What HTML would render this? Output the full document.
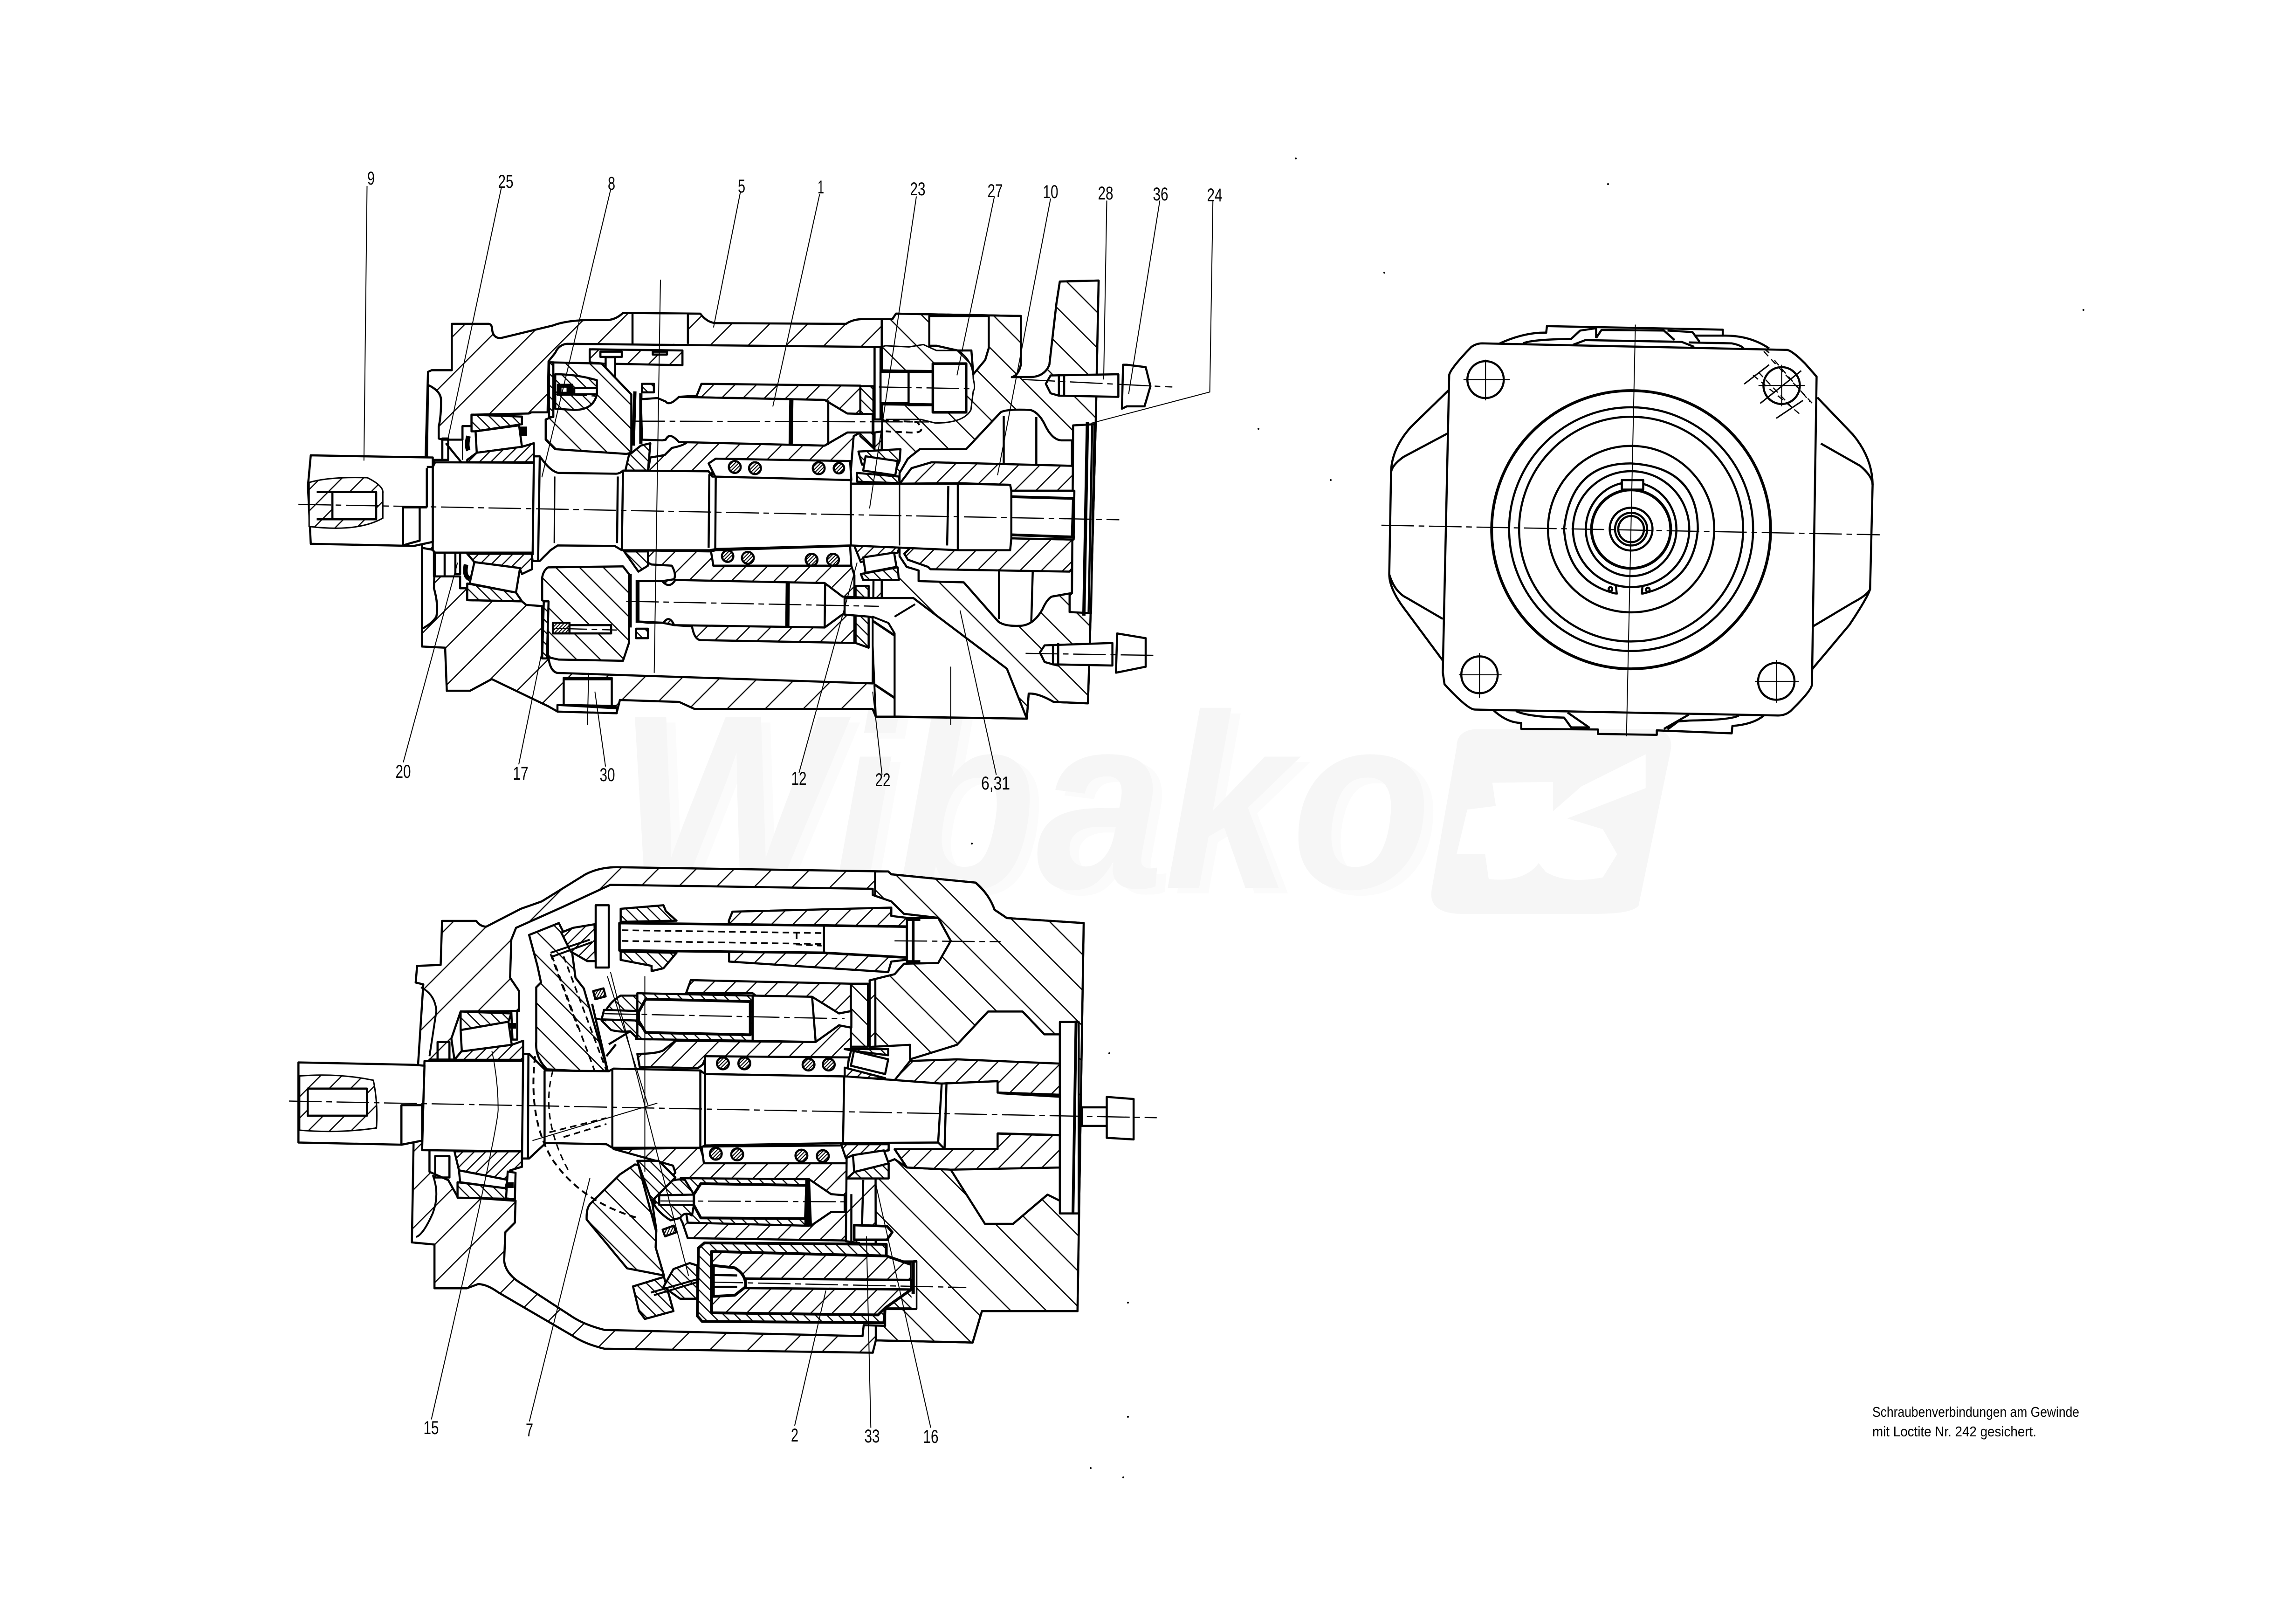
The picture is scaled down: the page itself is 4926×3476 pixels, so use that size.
<!DOCTYPE html>
<html><head><meta charset="utf-8"><title>Pump sectional drawing</title>
<style>
html,body{margin:0;padding:0;background:#fff}
svg{display:block}
.o{fill:none;stroke:#000;stroke-width:4.5;vector-effect:non-scaling-stroke;stroke-linejoin:round}
.t{fill:none;stroke:#000;stroke-width:2;vector-effect:non-scaling-stroke}
.c{fill:none;stroke:#000;stroke-width:2.5;stroke-dasharray:70 10 12 10;vector-effect:non-scaling-stroke}
.d{fill:none;stroke:#000;stroke-width:2.5;stroke-dasharray:14 9;vector-effect:non-scaling-stroke}
.k{fill:none;stroke:#000;stroke-width:8;vector-effect:non-scaling-stroke}
.w{fill:#fff;stroke:#000;stroke-width:4.5;vector-effect:non-scaling-stroke;stroke-linejoin:round}
.n{fill:#fff;stroke:none}
.ha,.hb,.ma,.mb,.fa,.fb,.xx{stroke:#000;stroke-width:4.5;vector-effect:non-scaling-stroke;stroke-linejoin:round}
.ha{fill:url(#ha)}.hb{fill:url(#hb)}.ma{fill:url(#ma)}.mb{fill:url(#mb)}.fa{fill:url(#fa)}.fb{fill:url(#fb)}.xx{fill:url(#xx)}
.l{font-family:"Liberation Sans",sans-serif;font-size:40px;fill:#000;text-anchor:middle}
.s{font-family:"Liberation Sans",sans-serif;font-size:31px;fill:#000}
</style></head><body>
<svg xmlns="http://www.w3.org/2000/svg" width="4926" height="3476" viewBox="0 0 4926 3476">
<defs>
<pattern id="ha" patternUnits="userSpaceOnUse" width="160" height="160"><rect width="160" height="160" fill="#fff"/><path d="M-20,20 L20,-20 M0,160 L160,0 M140,180 L180,140" stroke="#000" stroke-width="5" fill="none"/></pattern>
<pattern id="hb" patternUnits="userSpaceOnUse" width="150" height="150"><rect width="150" height="150" fill="#fff"/><path d="M-20,130 L20,170 M0,0 L150,150 M130,-20 L170,20" stroke="#000" stroke-width="5" fill="none"/></pattern>
<pattern id="ma" patternUnits="userSpaceOnUse" width="90" height="90"><rect width="90" height="90" fill="#fff"/><path d="M-20,20 L20,-20 M0,90 L90,0 M70,110 L110,70" stroke="#000" stroke-width="5" fill="none"/></pattern>
<pattern id="mb" patternUnits="userSpaceOnUse" width="100" height="100"><rect width="100" height="100" fill="#fff"/><path d="M-20,80 L20,120 M0,0 L100,100 M80,-20 L120,20" stroke="#000" stroke-width="5" fill="none"/></pattern>
<pattern id="fa" patternUnits="userSpaceOnUse" width="48" height="48"><rect width="48" height="48" fill="#fff"/><path d="M-10,10 L10,-10 M0,48 L48,0 M38,58 L58,38" stroke="#000" stroke-width="5" fill="none"/></pattern>
<pattern id="fb" patternUnits="userSpaceOnUse" width="48" height="48"><rect width="48" height="48" fill="#fff"/><path d="M-10,38 L10,58 M0,0 L48,48 M38,-10 L58,10" stroke="#000" stroke-width="5" fill="none"/></pattern>
<pattern id="xx" patternUnits="userSpaceOnUse" width="15" height="15"><rect width="15" height="15" fill="#fff"/><path d="M-4,4 L4,-4 M0,15 L15,0 M11,19 L19,11" stroke="#000" stroke-width="4" fill="none"/></pattern>
</defs>
<rect width="4926" height="3476" fill="#fff"/>

<!-- watermark -->
<text x="1346" y="1917" font-family="Liberation Sans, sans-serif" font-weight="bold" font-style="italic" font-size="533" textLength="1745" lengthAdjust="spacingAndGlyphs" fill="#fbfbfb">Wibako</text>
<text x="1326" y="1905" font-family="Liberation Sans, sans-serif" font-weight="bold" font-style="italic" font-size="533" textLength="1745" lengthAdjust="spacingAndGlyphs" fill="#f6f6f6">Wibako</text>
<g transform="matrix(1.5307,0,0,0.3827,1250,1450)">
<path fill="#f6f6f6" d="M1250,300 L1500,300 Q1530,310 1525,420 L1480,1290 Q1470,1335 1420,1335 L1230,1335 Q1185,1330 1190,1200 L1225,400 Q1225,310 1250,300 Z"/>
<path fill="#fff" d="M1240,750 L1280,730 L1275,600 L1360,595 L1360,760 L1400,620 L1490,440 L1490,630 L1380,800 L1430,860 L1450,1000 L1430,1130 Q1380,1170 1350,1100 L1340,1050 Q1320,1160 1270,1140 L1265,1000 L1225,1000 Z"/>
</g>

<!-- VIEW 1 (uniform trace) -->
<g transform="matrix(0.5102,0,0,0.5102,880,650)">
<path class="ha" d="M175,88 L330,88 Q345,90 345,115 Q350,148 380,148 L600,95 Q650,75 740,72 L830,72 Q865,70 895,42 L1220,45 Q1250,85 1290,85 L1833,88 Q1858,70 1898,68 L2028,68 L2043,45 L2568,55 L2568,260 Q2558,305 2530,312 L2608,312 Q2668,310 2688,260 L2718,0 L2732,-90 L2895,-94 L2883,500 L2858,1430 L2850,1684 L2706,1678 Q2640,1640 2601,1643 L2593,1748 L1958,1740 L1945,1708 L1197,1708 L1131,1678 L882,1670 L868,1725 L619,1718 L580,1696 L343,1582 L252,1631 L154,1631 L147,1450 L50,1445 L50,1020 L65,650 L75,290 L90,283 L175,283 Z"/>
<path class="hb" d="M1983,68 L2028,68 L2043,45 L2568,55 L2568,260 Q2558,305 2530,312 L2608,312 Q2668,310 2688,260 L2718,0 L2732,-90 L2895,-94 L2883,500 L2858,1430 L2850,1684 L2706,1678 Q2640,1640 2601,1643 L2593,1748 L2037,1740 L1983,1500 Z"/>
<rect class="n" x="936" y="48" width="232" height="124"/>
<path class="o" d="M935,46 L935,172 M1168,46 L1168,172"/>
<!-- left recesses -->
<path class="w" d="M75,345 Q130,370 130,410 Q130,480 120,520 L120,570 L135,575 L135,660 L100,660 L100,690 L70,690 Z"/>
<path class="w" d="M105,1040 L100,1200 Q120,1270 110,1320 Q90,1350 50,1370 L50,1030 Z"/>
<!-- main cavity -->
<path class="w" d="M135,575 L220,575 L220,518 L258,518 L258,470 L500,465 L510,460 L578,460 L582,245 L610,210 Q625,175 660,172 L1953,185 L1953,490 L1985,490 L1985,540 L1953,545 L1945,1600 L619,1556 Q590,1550 582,1495 L555,1495 L555,1275 L488,1270 L470,1255 L240,1250 L240,1200 L210,1200 L210,1150 L100,1150 L100,1050 L100,660 L135,660 Z"/>
<path class="w" d="M1953,185 L1978,185 L1978,490 L1953,490 Z"/>
<!-- upper right pocket and plug break -->
<path class="w" d="M2183,55 L2433,55 L2433,190 L2418,240 L2368,300 L2360,200 L2303,200 L2213,180 L2183,180 Z"/>
<path class="t" d="M1978,185 L2000,180 L2098,185 L2158,175 L2213,200 L2303,200 Q2368,240 2368,320 Q2378,360 2368,370 L2358,450 Q2328,505 2208,505 L2148,490 L2000,490" style="stroke-width:3"/>
<rect class="w" x="1978" y="290" width="118" height="130"/>
<rect class="w" x="2096" y="290" width="102" height="140"/>
<path class="k" d="M1978,285 L2196,288 M1978,425 L2196,428" style="stroke-width:6"/>
<rect class="w" x="2198" y="255" width="140" height="205" style="stroke-width:5.5"/>
<path class="d" d="M1985,495 L2130,500 Q2180,550 2100,545 L2000,540" style="stroke-width:4"/>
<!-- top of swash cap -->
<path class="ma" d="M755,195 L1145,200 L1145,262 L810,255 L755,250 Z"/>
<rect class="w" x="800" y="205" width="90" height="22"/>
<rect class="w" x="1020" y="205" width="60" height="12"/>
<path class="w" d="M822,228 L862,228 L862,320 L822,320 Z"/>
<path class="k" d="M822,322 L862,322" style="stroke-width:5"/>
<!-- swash upper -->
<path class="mb" d="M590,250 L805,255 L930,385 L930,630 L910,635 L610,615 L570,575 L570,490 L595,480 Z"/>
<rect class="fb" x="584" y="250" width="18" height="230"/>
<path class="w" d="M610,300 Q700,300 785,325 L785,385 Q770,450 690,450 L610,445 Z" style="fill:url(#fb)"/>
<rect x="617" y="340" width="68" height="50" fill="#000"/>
<rect class="w" x="632" y="352" width="30" height="26"/>
<rect class="w" x="690" y="358" width="95" height="26"/>
<path class="k" d="M945,372 L938,600 M970,380 L970,592" style="stroke-width:7"/>
<!-- swash lower -->
<path class="mb" d="M580,1112 L895,1108 L920,1140 L920,1430 L895,1505 L625,1500 L580,1490 L578,1265 L555,1250 L555,1155 Q560,1125 580,1112 Z"/>
<path class="fb" d="M562,1255 L582,1255 L575,1495 L555,1495 Z"/>
<rect x="600" y="1345" width="70" height="45" class="xx"/>
<rect class="w" x="670" y="1355" width="175" height="35"/>
<path class="k" d="M925,1140 L925,1365 M955,1165 L955,1345" style="stroke-width:7"/>
<rect class="fb" x="950" y="1370" width="50" height="40"/>
<rect class="fb" x="975" y="340" width="50" height="36"/>
<!-- cylinder blocks -->
<path class="ma" d="M1205,390 L1225,340 L1893,348 L1893,545 L1865,560 L1860,620 L1850,745 L1000,708 L1010,650 L1070,640 L1100,610 Q1150,600 1165,585 L1743,600 L1838,545 L1838,465 L1743,408 L1130,395 Z"/>
<path class="fb" d="M1893,350 L1948,350 L1948,610 L1893,560 Z"/>
<path class="ma" d="M895,1040 L1270,1045 L1275,1105 L1855,1105 L1868,1145 L1868,1430 L1220,1418 Q1195,1415 1185,1360 L1110,1355 L1060,1345 L1000,1345 L960,1340 L960,1170 L1060,1170 L1110,1162 Q1120,1140 1100,1105 L1015,1100 Z"/>
<path class="fb" d="M1873,1190 L1928,1190 L1928,1450 L1873,1430 Z"/>
<!-- spring chambers -->
<path class="w" d="M1255,675 L1285,655 L1850,665 L1855,745 L1285,735 Z"/>
<path class="w" d="M1265,1045 L1285,1040 L1850,1022 L1855,1105 L1275,1105 Z"/>
<circle class="xx" cx="1365" cy="690" r="25"/><circle class="xx" cx="1450" cy="695" r="25"/><circle class="xx" cx="1718" cy="695" r="25"/><circle class="xx" cx="1803" cy="695" r="22"/>
<circle class="xx" cx="1335" cy="1065" r="24"/><circle class="xx" cx="1420" cy="1072" r="25"/><circle class="xx" cx="1688" cy="1080" r="25"/><circle class="xx" cx="1778" cy="1080" r="25"/>
<!-- pistons -->
<path class="w" d="M1130,395 L1743,408 L1838,465 L1945,468 L1945,545 L1838,545 L1743,600 L1130,585 Q1090,540 1075,575 L1060,578 L975,575 L970,405 L1040,400 L1075,415 Q1090,435 1130,395 Z"/>
<path class="k" d="M1603,405 L1600,596" style="stroke-width:9"/>
<path class="o" d="M1758,410 L1758,598"/>
<path class="w" d="M1115,1165 L1743,1178 L1818,1235 L1928,1240 L1928,1310 L1818,1310 L1743,1365 L1110,1355 Q1090,1310 1065,1345 L960,1340 L960,1170 L1060,1170 Q1090,1205 1115,1165 Z"/>
<path class="k" d="M1588,1175 L1586,1362" style="stroke-width:9"/>
<path class="o" d="M1745,1178 L1743,1365"/>
<path class="fb" d="M920,640 L970,600 L1010,590 L1000,705 L905,705 Z"/>
<path class="fb" d="M900,1045 L1000,1045 L1000,1105 L960,1130 Z"/>
<!-- bearings -->
<path class="fb" d="M258,470 L470,478 L470,510 L275,540 L258,540 Z"/>
<path class="w" d="M275,540 L458,515 L470,605 L280,630 Z"/>
<rect x="462" y="520" width="30" height="40" fill="#000"/>
<path class="fa" d="M240,660 L280,630 L470,605 L520,590 L520,670 L240,670 Z"/>
<path class="fa" d="M240,1055 L512,1055 L512,1120 L470,1140 L460,1115 L270,1090 Z"/>
<path class="w" d="M270,1090 L462,1115 L445,1218 L250,1180 Z"/>
<path class="fb" d="M240,1180 L445,1218 L470,1255 L240,1250 Z"/>
<path class="k" d="M245,560 Q235,600 245,620 M235,1100 Q225,1150 250,1160" style="stroke-width:10"/>
<path class="o" d="M135,570 L160,570 L160,660 L135,660 Z M150,590 L215,670 M105,1050 L145,1050 L145,1150 L105,1150 Z M190,1050 L210,1050 L210,1140 L190,1140 Z"/>
<path class="t" d="M220,518 L220,660"/>
<!-- right bearings -->
<path class="fb" d="M1885,625 L2062,615 L2058,665 L2040,705 L1900,680 Z"/>
<path class="w" d="M1915,645 L2050,665 L2040,725 L1905,705 Z"/>
<path class="fb" d="M1878,715 L2055,730 L2058,758 L1880,752 Z"/>
<path class="fa" d="M1868,1022 L2060,1020 L2050,1050 L1895,1090 Z"/>
<path class="w" d="M1905,1070 L2035,1050 L2045,1110 L1915,1135 Z"/>
<path class="fb" d="M1895,1140 L2050,1112 L2055,1165 L1905,1165 Z"/>
<!-- rear cavity -->
<path class="w" d="M2093,655 L2143,615 L2338,615 L2483,460 Q2508,445 2608,450 Q2643,460 2668,510 Q2698,575 2738,578 L2783,578 L2783,1220 L2698,1235 Q2678,1245 2658,1290 Q2618,1360 2558,1358 Q2498,1360 2473,1340 L2328,1175 L2138,1170 L2138,1125 L2088,1110 L2058,1065 L2058,715 Z"/>
<path class="fa" d="M2063,755 L2108,695 L2193,670 L2783,685 L2798,705 L2793,790 L2528,790 L2523,765 L2308,758 L2063,760 Z" style="fill:url(#ma)"/>
<path class="ma" d="M2078,1055 L2093,1080 L2178,1110 L2188,1120 L2773,1130 L2793,1105 L2790,995 L2528,990 L2518,1040 L2308,1040 L2258,1025 L2108,1025 Z"/>
<path class="o" d="M2496,475 L2496,680 M2633,480 L2633,680 M2476,1120 L2476,1330 M2618,1130 L2612,1340"/>
<!-- plate -->
<path class="w" d="M2788,515 L2878,510 L2863,1305 L2773,1300 L2773,1230 L2783,1220 Z"/>
<path class="k" d="M2848,500 L2833,1315" style="stroke-width:7"/>
<path class="o" d="M2868,515 L2853,1300"/>
<!-- shaft -->
<path class="w" d="M105,670 L520,672 L520,645 L545,645 Q590,710 625,715 L860,718 Q880,720 895,705 L1255,708 L1270,730 L1853,745 L1853,760 L2308,760 L2523,765 L2528,790 L2793,790 L2790,995 L2528,990 L2523,1040 L2308,1040 L1853,1020 L1285,1035 L1260,1040 L890,1040 L860,1022 L620,1020 L590,1040 L545,1085 L515,1085 L510,1050 L105,1050 L95,1040 L95,690 Z"/>
<path class="o" d="M520,672 L515,1060 M545,650 L538,1080 M873,730 L870,1010 M895,710 L890,1040 M1258,720 L1255,1030 M1285,735 L1283,1035 M1853,760 L1853,1020 M2263,770 L2258,1020 M2303,760 L2303,1040"/>
<path class="t" d="M608,730 L606,1010 M2058,760 L2058,1020" style="stroke-width:3"/>
<path class="o" d="M2528,790 L2528,990"/>
<path class="k" d="M2528,815 L2790,822 M2528,975 L2795,985" style="stroke-width:6"/>
<path class="k" d="M2790,822 L2785,985" style="stroke-width:7"/>
<!-- hub -->
<path class="w" d="M-418,641 L95,650 L95,1005 L15,1022 L-418,1013 L-430,770 Z"/>
<path style="fill:url(#ma);stroke:#000;stroke-width:3;vector-effect:non-scaling-stroke" d="M-425,755 Q-340,730 -180,735 Q-110,770 -115,800 L-115,905 Q-220,965 -425,940 Z"/>
<rect class="w" x="-327" y="795" width="184" height="115"/>
<path class="o" d="M-393,795 L-327,795 M-393,910 L-327,910"/>
<path class="w" d="M-30,860 L40,860 L40,1000 Q0,1010 -30,1020 Z"/>
<path class="o" d="M70,690 L95,690 M70,695 L70,860 M40,860 L70,860"/>
<!-- bolts -->
<path class="w" d="M2693,305 L2978,300 L2978,395 L2728,390 L2693,380 L2673,340 Z"/>
<path class="o" d="M2728,300 L2728,390 M2750,298 L2750,392"/>
<path class="w" d="M2998,260 L3013,260 L3093,270 L3113,350 L3088,435 L3013,435 L2993,445 Z"/>
<path class="w" d="M2668,1440 L2953,1430 L2953,1525 L2703,1520 L2668,1510 L2648,1470 Z"/>
<path class="o" d="M2703,1435 L2703,1520 L2725,1525 L2725,1430"/>
<path class="w" d="M2973,1390 L3093,1410 L3093,1530 L2968,1555 Z"/>
</g>

<!-- VIEW 1 overlays in older grid -->
<g transform="matrix(1.3393,0,0,0.8929,600,350)">
<path class="w" d="M945,1090 L905,1085 L905,1045 L1015,1045 L1165,1215 L1197,1335 L985,1330 L985,1130 L975,1105 Z"/>
<path class="hb" style="stroke-width:4" d="M950,1090 L975,1105 L985,1130 L985,1330 L955,1330 L950,1160 Z"/>
<path class="k" d="M985,1090 L1018,1060" style="stroke-width:4"/>
<!-- plug 30 -->
<rect class="w" x="455" y="1237" width="77" height="68"/>
<path class="k" d="M455,1240 L532,1240 M450,1302 L540,1305" style="stroke-width:5"/>
<path class="w" d="M445,1302 L540,1310 L540,1322 L445,1318 Z"/>
<!-- centres -->
<path class="c" d="M30,820 L1345,857"/>
<path class="c" d="M960,538 L1105,542 M1190,520 L1430,538 M565,620 L1040,622 M555,1053 L960,1065 M1195,1178 L1405,1183 M440,555 L510,560 M440,1118 L540,1122"/>
<path class="t" d="M610,280 L600,1225 M495,1225 L493,1350 M1075,1210 L1075,1350"/>
<!-- leaders -->
<path class="t" d="M140,55 L135,715 M355,60 L270,660 M530,65 L420,755 M738,70 L695,395 M865,75 L790,585 M1020,80 L945,830 M1145,80 L1085,510 M1235,85 L1150,750 M1325,90 L1320,520 M1410,90 L1360,555 M1495,90 L1490,550 L1300,625 M198,1440 L285,960 M383,1445 L420,1175 M522,1450 L505,1270 M832,1465 L925,960 M965,1470 L950,1270 M1148,1470 L1090,1075"/>
</g>

<!-- VIEW 2 (uniform trace) -->
<g transform="matrix(0.5102,0,0,0.5102,1000,1950)">
<path class="ha" d="M-101,51 L43,51 Q60,75 85,75 L230,0 L318,-31 L502,-145 Q560,-175 634,-175 L1775,-157 L1788,-145 L2143,-110 Q2200,-60 2222,4 L2274,39 L2597,60 L2571,1692 L2169,1692 L2130,1824 L1723,1815 L1710,1867 L581,1850 Q500,1830 450,1797 L135,1613 Q90,1580 51,1578 L3,1596 L-133,1596 L-133,1412 L-228,1403 L-220,931 L-180,318 L-212,310 L-206,240 L-107,236 Z"/>
<path class="hb" d="M1720,-157 L1775,-157 L1788,-145 L2143,-110 Q2200,-60 2222,4 L2274,39 L2597,60 L2571,1692 L2169,1692 L2130,1824 L1723,1815 Z"/>
<path class="w" d="M607,-101 L1710,-84 L1710,-58 L1788,-31 L1841,21 L1985,38 L2038,135 L1972,228 L1841,231 L1802,275 L1697,301 L1697,581 L1867,572 L1867,633 L2064,572 L2195,432 L2340,432 L2432,528 L2497,528 L2497,1228 L2445,1202 L2300,1325 L2182,1325 L2038,1097 L1854,1088 L1802,1053 L1597,1137 L1597,1398 L1652,1405 L1652,1411 L1767,1411 L1767,1483 L1892,1483 L1892,1682 L1762,1682 L1762,1754 L1672,1751 L1667,1797 L582,1771 Q500,1750 450,1718 L220,1568 Q165,1530 160,1480 L165,1360 L205,1320 L208,1228 L-36,1211 L-75,1141 L-154,1106 L-154,634 L-49,634 L-62,546 L-23,432 L222,430 L222,345 L185,290 L190,130 L210,80 L400,-5 Z"/>
<path class="o" d="M-190,330 Q-130,360 -125,430 L-154,620 M-140,1120 Q-110,1200 -140,1280 Q-180,1370 -210,1380" style="stroke-width:4"/>
<!-- top piston group -->
<path class="ma" d="M1120,12 L1788,-5 L1788,30 L1854,38 L1854,214 L1788,222 L1775,266 L1106,222 L1105,50 Z"/>
<path class="fb" d="M650,0 L830,-15 L840,10 L885,50 L650,55 Z"/>
<path class="fb" d="M650,180 L885,185 L830,250 L780,262 L780,240 L650,215 Z"/>
<path class="w" d="M645,60 L1505,70 L1854,75 L1854,205 L1505,185 L645,175 Z" style="stroke-width:5.5"/>
<path class="o" d="M1505,70 L1505,185"/>
<path class="d" d="M655,90 L1495,102 M655,135 L1495,148 M1390,100 L1390,150 L1495,155" style="stroke-width:3.5"/>
<rect class="w" x="545" y="-15" width="55" height="262"/>
<path class="w" d="M1854,40 L1985,38 L2038,135 L1985,228 L1854,230 Z"/>
<path class="k" d="M1880,45 L1880,222 M1854,45 L1910,45 M1854,222 L1910,222" style="stroke-width:6"/>
<!-- swash upper -->
<path class="mb" d="M265,110 L390,60 L415,110 L440,140 L460,290 L495,335 L595,680 L530,685 L340,675 Q290,625 295,560 L295,330 L315,310 L300,240 Z"/>
<path class="xx" d="M400,100 L450,80 L540,65 L545,220 L510,220 L440,180 Z" style="fill:url(#fa)"/>
<path d="M355,185 L520,130 M365,200 L530,140" stroke="#000" stroke-width="8" fill="none"/>
<path class="d" d="M360,195 L540,680 M410,200 L590,680 M355,190 L470,500" style="stroke-width:3.5"/>
<path d="M530,400 L595,680" stroke="#000" stroke-width="9"/>
<!-- blocks -->
<path class="ma" d="M925,355 L945,300 L1618,315 L1618,600 L1598,680 L1010,620 L995,655 L975,670 L730,665 L720,610 Q800,610 830,595 L880,555 L1470,560 L1205,355 Z"/>
<rect class="mb" x="1618" y="315" width="72" height="265"/>
<path class="ma" d="M620,1010 L985,1005 L1005,1070 L1600,1070 L1597,1395 L932,1385 L910,1320 L900,1300 L860,1310 L820,1270 L785,1235 L820,1170 L880,1110 L870,1080 Z"/>
<!-- upper main piston -->
<path class="w" d="M1205,365 L1455,370 L1568,440 L1620,430 L1620,500 L1568,490 L1470,560 L1205,555 Z"/>
<path class="fb" d="M720,355 L1205,365 L1205,555 L715,548 L720,520 L720,380 Z"/>
<path class="w" d="M755,380 L1195,390 L1195,530 L755,520 L725,470 L725,435 Z" style="stroke-width:6"/>
<path class="fb" d="M570,470 Q590,400 650,365 L720,365 L720,545 L690,515 Q650,520 610,510 Z"/>
<path class="w" d="M580,425 L720,430 L720,470 L570,465 Z"/>
<rect class="xx" x="538" y="340" width="45" height="35" transform="rotate(-15 560 357)"/>
<path d="M530,400 L595,680 M540,460 L590,470" stroke="#000" stroke-width="8"/>
<path class="o" d="M1455,370 L1470,560"/>
<path class="o" d="M600,570 L690,515 M590,620 L630,570"/>
<!-- springs -->
<path class="w" d="M1005,620 L1610,625 L1600,705 L1005,695 Z"/>
<path class="w" d="M990,1000 L1600,995 L1600,1070 L1000,1070 Z"/>
<circle class="xx" cx="1080" cy="650" r="25"/><circle class="xx" cx="1170" cy="650" r="25"/><circle class="xx" cx="1440" cy="655" r="25"/><circle class="xx" cx="1525" cy="655" r="25"/>
<circle class="xx" cx="1050" cy="1030" r="25"/><circle class="xx" cx="1140" cy="1033" r="25"/><circle class="xx" cx="1410" cy="1038" r="25"/><circle class="xx" cx="1500" cy="1040" r="25"/>
<!-- lower piston -->
<path class="w" d="M1442,1137 L1535,1200 L1592,1205 L1592,1275 L1535,1275 L1450,1333 Z"/>
<path class="fb" d="M902,1133 L1442,1137 L1442,1333 L932,1320 Z"/>
<path class="w" d="M987,1156 L1432,1163 L1427,1303 L987,1300 L957,1245 L957,1202 Z" style="stroke-width:6"/>
<path class="fb" d="M785,1235 L820,1170 Q870,1130 920,1140 L957,1200 L957,1250 L950,1290 Q920,1270 900,1300 L860,1310 Q810,1280 785,1235 Z"/>
<path class="w" d="M812,1205 L957,1202 L957,1245 L812,1245 Z"/>
<path class="k" d="M1436,1140 L1432,1333" style="stroke-width:10"/>
<path d="M770,1210 L800,1240" stroke="#000" stroke-width="10"/>
<!-- swash lower -->
<path class="mb" d="M647,1117 L710,1075 L760,1085 L800,1350 L797,1424 L832,1542 L677,1512 L507,1307 Q505,1260 522,1241 Z"/>
<path d="M720,1060 L800,1360" stroke="#000" stroke-width="9"/>
<path class="fb" d="M720,1060 L810,1060 L880,1130 L820,1190 L780,1230 Z"/>
<rect class="xx" x="830" y="1340" width="50" height="30" transform="rotate(-20 855 1355)"/>
<path class="fb" d="M702,1588 L832,1548 L872,1692 L752,1725 L727,1692 Z"/>
<path class="fb" d="M872,1515 L940,1490 L972,1500 L972,1640 L900,1640 L830,1590 Z"/>
<path d="M777,1614 L972,1558 M790,1625 L972,1570" stroke="#000" stroke-width="8"/>
<!-- lower rod block -->
<path class="fb" d="M977,1427 L1002,1405 L1767,1411 L1767,1483 L1787,1496 L1892,1483 L1892,1682 L1762,1682 L1757,1741 L992,1735 L972,1712 Z" style="stroke-width:6"/>
<path class="ma" d="M1032,1441 L1767,1460 L1872,1496 L1872,1601 L1762,1679 L1732,1708 L1032,1699 Z" style="stroke-width:6"/>
<rect class="n" x="1873" y="1488" width="18" height="190"/>
<path class="k" d="M1032,1441 L1032,1699 M1880,1480 L1880,1620" style="stroke-width:7"/>
<path class="w" d="M1175,1555 L1872,1561 L1872,1601 L1175,1595 Z" style="stroke-width:5"/>
<path class="w" d="M1040,1500 L1130,1510 Q1180,1540 1175,1590 L1130,1625 L1040,1630 Z" style="stroke-width:6"/>
<path d="M1045,1540 L1140,1542 M1045,1590 L1140,1590" stroke="#000" stroke-width="9"/>
<path class="w" d="M1632,1330 L1770,1335 L1792,1360 L1770,1392 L1632,1392 Z" style="stroke-width:5.5"/>
<path class="o" d="M1620,1200 L1620,1410 M1670,1140 L1665,1330"/>
<!-- left bearings -->
<path class="fb" d="M-23,432 L190,440 L178,475 L-23,510 Z"/>
<path class="w" d="M-23,510 L178,475 L192,572 L-18,600 Z"/>
<path class="fa" d="M-49,635 L-20,600 L192,572 L240,555 L240,635 Z"/>
<path class="w" d="M190,430 L215,430 L215,550 L195,550 Z"/>
<rect x="180" y="480" width="30" height="24" fill="#000"/>
<path class="fa" d="M-49,1020 L235,1020 L235,1085 L185,1100 L175,1140 L-30,1100 Z"/>
<path class="w" d="M-30,1100 L175,1140 L165,1175 L-25,1150 Z"/>
<path class="fb" d="M-36,1150 L165,1175 L195,1220 L-36,1215 Z"/>
<path class="w" d="M175,1105 L208,1110 L205,1222 L168,1218 Z"/>
<rect x="170" y="1150" width="30" height="24" fill="#000"/>
<path class="o" d="M-120,560 L-70,560 L-70,640 L-120,640 Z M-130,1040 L-70,1040 L-70,1130 L-130,1130 Z"/>
<!-- rear sleeve -->
<path class="ma" d="M1802,721 L1867,640 L2064,633 L2497,651 L2497,782 L2235,773 L2235,725 L1998,735 Z"/>
<path class="ma" d="M1802,1011 L2235,1010 L2235,945 L2497,952 L2497,1088 L2038,1097 L1854,1088 Z"/>
<!-- right bearings -->
<path class="fb" d="M1592,590 L1775,590 L1775,616 L1631,598 Z"/>
<path class="w" d="M1631,598 L1775,633 L1762,695 L1618,660 Z"/>
<path class="fa" d="M1592,668 L1762,712 L1592,717 Z"/>
<path class="fa" d="M1577,990 L1777,990 L1777,1016 L1627,1036 L1597,1049 Z"/>
<path class="w" d="M1627,1036 L1757,1016 L1777,1071 L1632,1107 Z"/>
<path class="fb" d="M1632,1107 L1777,1071 L1777,1134 L1602,1134 Z"/>
<!-- plate -->
<rect class="w" x="2497" y="476" width="79" height="805"/>
<path class="k" d="M2565,470 L2552,1285" style="stroke-width:6"/>
<!-- shaft -->
<path class="w" d="M-175,640 L240,640 L240,610 L265,610 L335,680 L600,683 L620,672 L985,680 L1005,695 L1600,705 L1998,735 L2235,725 L2235,773 L2497,782 L2497,952 L2235,945 L2235,1010 L2012,1010 L1985,983 L1600,985 L1005,995 L985,1005 L615,1005 L590,990 L335,985 L265,1050 L235,1050 L235,1020 L-185,1015 Z"/>
<path class="o" d="M240,610 L235,1050 M262,610 L260,1050 M330,680 L330,985 M615,672 L615,1005 M985,680 L985,1005 M1005,695 L1005,995 M1590,705 L1585,985 M2000,735 L1985,983 M2020,735 L2012,1010"/>
<path class="k" d="M2235,945 L2497,952 M2240,775 L2497,790" style="stroke-width:5"/>
<path class="d" d="M290,620 Q260,880 360,1050 Q480,1230 720,1300" style="stroke-width:4"/>
<path class="d" d="M365,680 Q310,880 430,1100" style="stroke-width:3"/>
<path class="d" d="M350,940 L590,880 M410,960 L590,905" style="stroke-width:3.5"/>
<!-- hub -->
<path class="w" d="M-705,646 L-220,656 L-175,660 L-185,975 L-272,992 L-705,983 Z"/>
<path style="fill:url(#ma);stroke:#000;stroke-width:3;vector-effect:non-scaling-stroke" d="M-700,703 Q-540,690 -390,721 Q-370,820 -377,922 Q-540,945 -700,931 Z"/>
<rect class="w" x="-666" y="756" width="249" height="114"/>
<path class="w" d="M-272,826 L-185,826 L-185,975 L-272,992 Z"/>
<!-- bolt -->
<rect class="w" x="2589" y="835" width="105" height="78"/>
<path class="w" d="M2694,791 L2807,800 L2807,970 L2694,963 Z"/>
</g>

<!-- VIEW 2 centres/leaders -->
<g transform="matrix(1.3393,0,0,0.8929,600,1800)">
<path class="c" d="M15,630 L1405,670"/>
<path class="c" d="M520,420 L905,432 M610,870 L905,872 M690,1065 L1100,1078 M985,245 L1155,247"/>
<path class="t" d="M530,320 L655,1050 M585,330 L585,800 M525,330 L590,640"/>
<path class="t" d="M243,1395 Q350,700 350,650 Q350,580 340,510 M400,1400 L497,815 M825,1410 L875,1085 M947,1415 L940,955 M1043,1415 L955,830"/>
<path class="t" d="M405,725 L605,635"/>
</g>

<!-- VIEW 3 -->
<g transform="matrix(0.7653,0,0,0.6378,2950,620)">
<path class="o" d="M207,340 L100,465 Q45,540 45,620 L40,960 Q40,1010 85,1080 L190,1250"/>
<path class="o" d="M205,485 L80,565 Q45,595 45,620 M40,960 Q55,1020 90,1040 L190,1110"/>
<path class="o" d="M1240,365 L1340,490 Q1395,570 1395,660 L1388,1010 Q1380,1040 1330,1130 L1225,1280"/>
<path class="o" d="M1250,520 L1360,595 Q1395,630 1395,660 M1388,1010 Q1380,1030 1340,1055 L1228,1135"/>
<path class="o" d="M350,183 Q420,145 480,147 L482,125 L975,137 L975,157 Q1050,155 1105,200"/>
<path class="o" d="M415,183 Q440,170 550,168 L575,140 L620,132 L620,165 M620,165 L635,138 L810,140 L840,172 M555,188 L590,172 L860,178 L895,195 M820,140 L890,145 L910,178 M900,157 L975,157 M880,180 L1000,183 Q1030,190 1035,203"/>
<path class="o" d="M330,1415 Q370,1460 410,1460 L410,1480 L625,1482 L625,1497 L790,1500 L790,1485 L1000,1495 L1002,1470 Q1060,1465 1090,1435"/>
<path class="o" d="M395,1420 Q430,1440 530,1442 L550,1475 L600,1475 L540,1425 M820,1482 L850,1455 L880,1452 M880,1432 L810,1480 M1020,1435 Q1000,1450 880,1452"/>
<path class="w" d="M300,183 L1155,205 Q1170,208 1205,250 L1238,295 L1225,1330 Q1225,1350 1165,1420 Q1150,1435 1130,1435 L280,1415 Q260,1415 195,1330 L190,1290 L208,290 Q210,270 270,195 Q285,183 300,183 Z"/>
<ellipse class="o" cx="310" cy="305" rx="51" ry="62"/>
<ellipse class="o" cx="1140" cy="325" rx="51" ry="62"/>
<ellipse class="o" cx="293" cy="1298" rx="51" ry="62"/>
<ellipse class="o" cx="1125" cy="1320" rx="51" ry="62"/>
<path class="t" d="M248,305 L378,305 M310,238 L310,375 M1075,325 L1205,325 M1140,255 L1140,395 M235,1298 L355,1298 M293,1225 L293,1375 M1065,1320 L1188,1320 M1125,1248 L1125,1392"/>
<path class="d" d="M1090,210 L1230,390 M1060,290 L1190,420 M1120,240 L1220,380 M1075,280 L1170,400"/>
<path class="t" d="M1035,320 L1105,255 M1125,435 L1200,375 M1080,385 L1195,275 M1105,215 L1095,205" style="stroke-width:3"/>
<ellipse cx="718" cy="810" rx="391" ry="468" fill="none" stroke="#000" stroke-width="6" vector-effect="non-scaling-stroke"/>
<ellipse class="o" cx="718" cy="808" rx="342" ry="410"/>
<ellipse class="o" cx="718" cy="808" rx="314" ry="378"/>
<ellipse class="o" cx="718" cy="808" rx="233" ry="280"/>
<path class="o" d="M675,1025 Q540,985 530,808 Q550,585 718,587 Q905,600 905,808 Q895,985 750,1025"/>
<ellipse class="o" cx="718" cy="808" rx="163" ry="195"/>
<ellipse class="o" cx="718" cy="808" rx="127" ry="158"/>
<ellipse cx="718" cy="808" rx="111" ry="132" fill="none" stroke="#000" stroke-width="6" vector-effect="non-scaling-stroke"/>
<ellipse class="o" cx="718" cy="808" rx="60" ry="72"/>
<ellipse class="o" cx="718" cy="808" rx="45" ry="55"/>
<ellipse class="o" cx="718" cy="808" rx="36" ry="44"/>
<rect class="w" x="692" y="643" width="60" height="32"/>
<ellipse class="o" cx="660" cy="1010" rx="5" ry="7"/>
<ellipse class="o" cx="765" cy="1012" rx="5" ry="7"/>
<path class="o" d="M675,995 L678,1028 M750,998 L748,1028"/>
<path class="c" d="M18,795 L1415,827"/>
<path class="t" d="M730,120 L705,1505"/>
</g>

<!-- labels -->
<g lengthAdjust="spacingAndGlyphs">
<text class="l" x="796" y="396" textLength="16" lengthAdjust="spacingAndGlyphs">9</text>
<text class="l" x="1085" y="403" textLength="33" lengthAdjust="spacingAndGlyphs">25</text>
<text class="l" x="1312" y="407" textLength="16" lengthAdjust="spacingAndGlyphs">8</text>
<text class="l" x="1591" y="413" textLength="16" lengthAdjust="spacingAndGlyphs">5</text>
<text class="l" x="1761" y="415" textLength="14" lengthAdjust="spacingAndGlyphs">1</text>
<text class="l" x="1969" y="419" textLength="33" lengthAdjust="spacingAndGlyphs">23</text>
<text class="l" x="2135" y="423" textLength="33" lengthAdjust="spacingAndGlyphs">27</text>
<text class="l" x="2254" y="425" textLength="33" lengthAdjust="spacingAndGlyphs">10</text>
<text class="l" x="2372" y="428" textLength="33" lengthAdjust="spacingAndGlyphs">28</text>
<text class="l" x="2490" y="430" textLength="33" lengthAdjust="spacingAndGlyphs">36</text>
<text class="l" x="2606" y="432" textLength="33" lengthAdjust="spacingAndGlyphs">24</text>
<text class="l" x="865" y="1669" textLength="33" lengthAdjust="spacingAndGlyphs">20</text>
<text class="l" x="1117" y="1673" textLength="33" lengthAdjust="spacingAndGlyphs">17</text>
<text class="l" x="1303" y="1676" textLength="33" lengthAdjust="spacingAndGlyphs">30</text>
<text class="l" x="1714" y="1684" textLength="33" lengthAdjust="spacingAndGlyphs">12</text>
<text class="l" x="1894" y="1687" textLength="33" lengthAdjust="spacingAndGlyphs">22</text>
<text class="l" x="2136" y="1694" textLength="62" lengthAdjust="spacingAndGlyphs">6,31</text>
<text class="l" x="925" y="3077" textLength="33" lengthAdjust="spacingAndGlyphs">15</text>
<text class="l" x="1136" y="3082" textLength="16" lengthAdjust="spacingAndGlyphs">7</text>
<text class="l" x="1705" y="3093" textLength="16" lengthAdjust="spacingAndGlyphs">2</text>
<text class="l" x="1871" y="3095" textLength="33" lengthAdjust="spacingAndGlyphs">33</text>
<text class="l" x="1997" y="3096" textLength="33" lengthAdjust="spacingAndGlyphs">16</text>
<text class="s" x="4017" y="3040" textLength="444" lengthAdjust="spacingAndGlyphs">Schraubenverbindungen am Gewinde</text>
<text class="s" x="4017" y="3082" textLength="352" lengthAdjust="spacingAndGlyphs">mit Loctite Nr. 242 gesichert.</text>
</g>

<!-- scan specks -->
<g fill="#000"><circle cx="2780" cy="340" r="2"/><circle cx="3450" cy="395" r="2"/><circle cx="4470" cy="665" r="2"/><circle cx="2420" cy="3040" r="2"/><circle cx="2410" cy="3170" r="2"/><circle cx="2340" cy="3150" r="2"/><circle cx="2420" cy="2795" r="2"/><circle cx="2380" cy="2260" r="2"/><circle cx="2085" cy="1810" r="2"/><circle cx="2970" cy="585" r="2"/><circle cx="2700" cy="920" r="2"/><circle cx="2855" cy="1030" r="2"/></g>
</svg>
</body></html>
